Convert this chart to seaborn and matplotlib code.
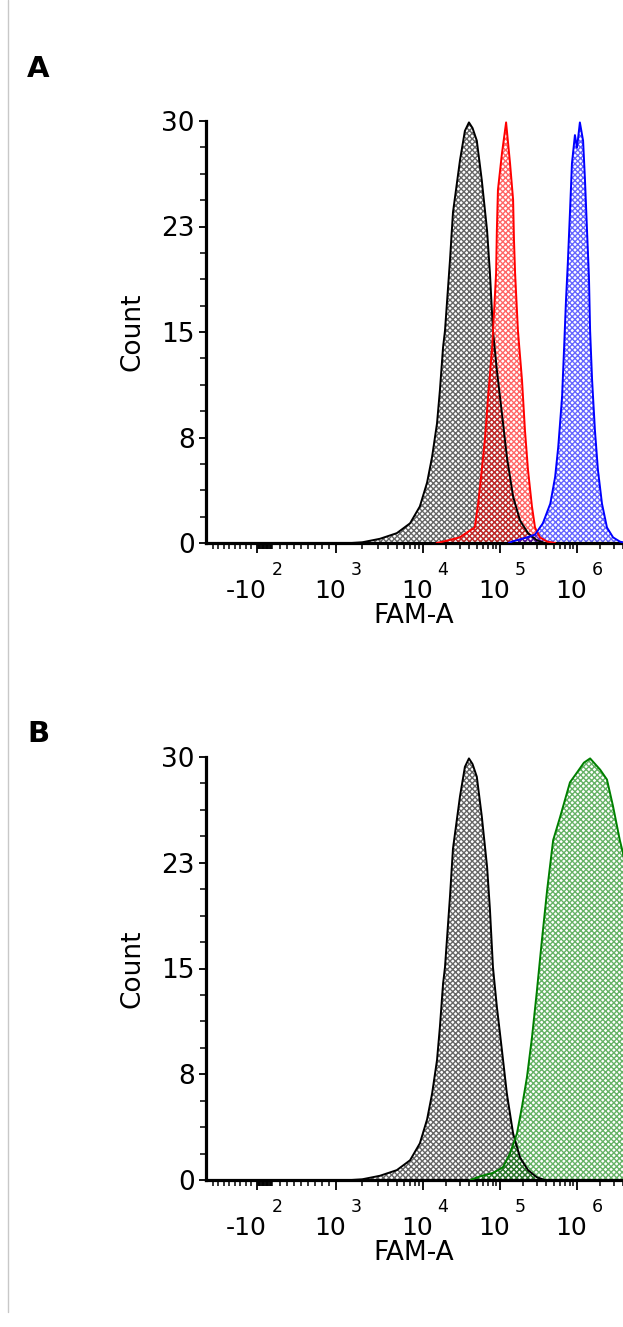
import numpy as np
import pandas as pd
import matplotlib
matplotlib.use("Agg")
import matplotlib.pyplot as plt
import matplotlib.transforms as mtransforms
import seaborn as sns
from matplotlib.lines import Line2D

# FAM-A histograms (intensity, count)
ctrl_fam = [1.5e3, 2.0e3, 3.2e3, 5.0e3, 7.1e3, 9.2e3, 1.13e4, 1.31e4, 1.52e4, 1.66e4,
            1.82e4, 1.93e4, 2.24e4, 2.45e4, 3.02e4, 3.5e4, 3.95e4, 4.4e4, 5.0e4, 5.8e4,
            6.8e4, 7.4e4, 8.1e4, 9.1e4, 1.06e5, 1.23e5, 1.48e5, 1.82e5, 2.31e5, 3.0e5,
            3.8e5]
ctrl_count = [0, 0.05, 0.3, 0.7, 1.4, 2.6, 4.3, 6.1, 8.5, 10.9,
              13.9, 15.1, 20.1, 23.5, 27.2, 29.3, 29.9, 29.5, 28.6, 25.8,
              22.2, 19.2, 15.1, 12.3, 9.2, 6.1, 3.3, 1.6, 0.7, 0.2,
              0]

red_fam = [1.5e4, 1.82e4, 3.0e4, 4.1e4, 4.7e4, 5.2e4, 5.8e4, 6.4e4, 7.0e4, 7.9e4,
           8.4e4, 8.9e4, 9.1e4, 9.4e4, 1.06e5, 1.2e5, 1.35e5, 1.48e5, 1.52e5, 1.57e5,
           1.71e5, 1.93e5, 2.11e5, 2.31e5, 2.6e5, 2.85e5, 3.3e5, 4.1e5, 5.2e5]
red_count = [0, 0.1, 0.4, 0.9, 1.1, 2.8, 5.2, 7.5, 10.4, 13.9,
             16.6, 19.2, 22.2, 25.1, 27.7, 29.9, 27.0, 24.4, 21.5, 19.2,
             15.1, 11.6, 8.0, 5.2, 2.6, 1.1, 0.4, 0.1, 0]

blue_fam = [1.3e5, 1.43e5, 2.24e5, 2.85e5, 3.6e5, 4.5e5, 5.2e5, 5.7e5, 6.4e5, 6.8e5,
            7.2e5, 7.6e5, 8.1e5, 8.6e5, 9.4e5, 1.0e6, 1.09e6, 1.2e6, 1.27e6, 1.35e6,
            1.43e6, 1.48e6, 1.57e6, 1.71e6, 1.87e6, 2.11e6, 2.45e6, 2.94e6, 3.6e6, 4.3e6]
blue_count = [0, 0.1, 0.4, 0.6, 1.4, 2.8, 4.7, 6.8, 10.4, 13.9,
              17.3, 19.9, 23.5, 27.0, 29.0, 28.1, 29.9, 28.6, 25.8, 22.2,
              18.9, 15.1, 11.6, 8.0, 5.2, 2.8, 1.1, 0.4, 0.1, 0]

green_fam = [4.1e4, 5.8e4, 8.1e4, 1.09e5, 1.35e5, 1.66e5, 1.93e5, 2.24e5, 2.6e5, 3.0e5,
             3.3e5, 3.5e5, 4.1e5, 4.9e5, 6.0e5, 8.1e5, 1.0e6, 1.23e6, 1.48e6, 2.0e6,
             2.45e6, 2.94e6, 3.6e6, 3.95e6, 4.9e6, 6.6e6, 8.9e6, 1.2e7, 1.6e7]
green_count = [0, 0.3, 0.5, 0.9, 1.9, 3.3, 5.2, 7.3, 10.1, 13.3,
               15.6, 17.0, 20.6, 24.1, 25.7, 28.2, 28.9, 29.6, 29.9, 29.1,
               28.4, 26.5, 24.1, 23.2, 20.0, 14.0, 8.0, 3.0, 0.5]

panels = [
    ("A", [(ctrl_fam, ctrl_count, "black"), (red_fam, red_count, "red"),
           (blue_fam, blue_count, "blue")]),
    ("B", [(ctrl_fam, ctrl_count, "black"), (green_fam, green_count, "green")]),
]

y_ticks = [0, 7.5, 15, 22.5, 30]
y_labels = ["0", "8", "15", "23", "30"]
x_ticks = [-100, 1e3, 1e4, 1e5, 1e6]
x_bases = ["-10", "10", "10", "10", "10"]
x_exps = ["2", "3", "4", "5", "6"]

# biexponential-like display axis: linear around zero, log above 10^3
G_ANCH = [-2000, -1000, -100, 100, 1000, 2000, 3000, 4000, 5000, 6000]
P_ANCH = [152, 207, 257, 273, 336, 423, 500, 577, 654, 731]


def _g(x):
    x = np.asarray(x, dtype=float)
    a = np.abs(x)
    big = a > 1000
    safe = np.where(big, a, 1000.0)
    return np.where(big, np.sign(x) * (1000 + 1000 * np.log10(safe / 1000)), x)


def fwd(x):
    return np.interp(_g(x), G_ANCH, P_ANCH)


def inv(p):
    gv = np.interp(np.asarray(p, dtype=float), P_ANCH, G_ANCH)
    a = np.abs(gv)
    big = a > 1000
    return np.where(big, np.sign(gv) * 1000 * 10 ** ((np.where(big, a, 1000) - 1000) / 1000), gv)


minor_x = ([-v for v in range(200, 1000, 100)] + list(range(-90, 100, 10))
           + list(range(200, 1000, 100))
           + [m * 10 ** k for k in range(3, 7) for m in range(2, 10)])
minor_y = [i * 1.875 for i in range(17)]

sns.set_theme(style="ticks")
plt.rcParams["font.family"] = ["DejaVu Sans"]
plt.rcParams["hatch.linewidth"] = 1.0

W, H = 623, 1327
fig = plt.figure(figsize=(W / 100, H / 100), dpi=100)

# vertical grey rule at left page edge
fig.add_artist(Line2D([7.5 / W, 7.5 / W], [1 - 1312 / H, 1.0], color="#c8c8c8", lw=1.0))

layout = [(121, 543, 77), (757, 1180, 742)]
for (letter, series), (top, bot, lbase) in zip(panels, layout):
    ax = fig.add_axes([206 / W, 1 - bot / H, (690 - 206) / W, (bot - top) / H])
    ax.set_xscale("function", functions=(fwd, inv))
    ax.set_xlim(inv(206), inv(690))
    ax.set_ylim(0, 30)

    for fam, cnt, col in series:
        ax.fill_between(fam, 0, cnt, facecolor="none",
                        edgecolor=(*matplotlib.colors.to_rgb(col), 0.6),
                        hatch="xxxxxx", linewidth=0, zorder=1)
    for fam, cnt, col in series:
        df = pd.DataFrame({"FAM-A": fam, "Count": cnt})
        sns.lineplot(data=df, x="FAM-A", y="Count", color=col, lw=1.4, sort=False,
                     estimator=None, ax=ax, zorder=3)

    sns.despine(ax=ax)
    for side in ("left", "bottom"):
        ax.spines[side].set_linewidth(2.3)
        ax.spines[side].set_color("black")

    ax.set_xticks(x_ticks)
    ax.set_xticklabels(x_bases)
    ax.set_xticks(minor_x, minor=True)
    ax.set_yticks(y_ticks)
    ax.set_yticklabels(y_labels)
    ax.set_yticks(minor_y, minor=True)
    ax.tick_params(axis="y", which="major", labelsize=19, width=1.3, length=5,
                   pad=3, color="black", labelcolor="black")
    ax.tick_params(axis="x", which="major", labelsize=18, width=1.3, length=7,
                   pad=19, color="black", labelcolor="black")
    ax.tick_params(axis="both", which="minor", width=1.1, length=4, color="black")

    # decade labels: base right-aligned just past the tick, exponent raised beside it
    shift = mtransforms.ScaledTranslation(0.10, 0, fig.dpi_scale_trans)
    for lab in ax.get_xticklabels():
        lab.set_horizontalalignment("right")
        lab.set_transform(lab.get_transform() + shift)
    base_tr = mtransforms.blended_transform_factory(ax.transData, ax.transAxes)
    exp_tr = base_tr + mtransforms.ScaledTranslation(0.145, -0.32, fig.dpi_scale_trans)
    for t, e in zip(x_ticks, x_exps):
        ax.text(t, 0, e, transform=exp_tr, fontsize=12.5, ha="left", va="baseline",
                color="black")

    ax.set_xlabel("FAM-A", fontsize=19, color="black")
    ax.set_ylabel("Count", fontsize=19, color="black")
    ax.xaxis.set_label_coords((414 - 206) / 484, -0.142)
    ax.yaxis.set_label_coords(-0.125, 0.5)

    fig.text(27 / W, 1 - lbase / H, letter, fontsize=21, fontweight="bold",
             ha="left", va="baseline", color="black")

fig.savefig("out.png", dpi=100)
